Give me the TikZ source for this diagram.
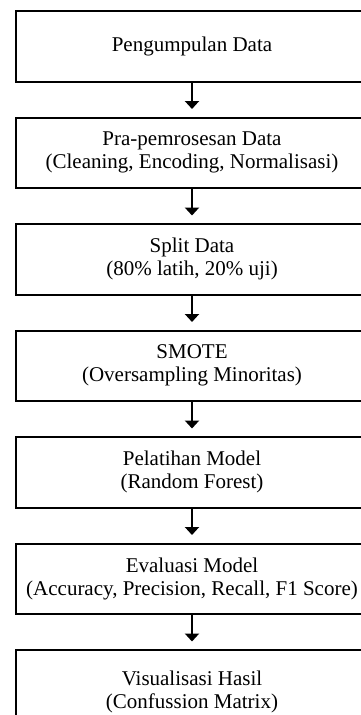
\documentclass[tikz,border=0pt]{standalone}
\usepackage{fontspec}
\setmainfont{Liberation Serif}
\usetikzlibrary{arrows.meta}
\begin{document}
\begin{tikzpicture}[x=1pt,y=-1pt,
  stepbox/.style={draw=black, line width=2pt, minimum width=352pt,
    minimum height=70.5pt, inner sep=0pt, align=center,
    font=\fontsize{21}{23}\selectfont},
  flow/.style={line width=2pt, -{Triangle[width=14pt,length=8pt]},
    shorten >=7.5pt}]
\useasboundingbox (0,0) rectangle (361,715);
\clip (0,0) rectangle (361,715);
\node[stepbox] (b1) at (192,46.25) {Pengumpulan Data};
\node[stepbox] (b2) at (192,152.75) {Pra-pemrosesan Data\\(Cleaning, Encoding, Normalisasi)};
\node[stepbox] (b3) at (192,259.25) {Split Data\\(80\% latih, 20\% uji)};
\node[stepbox] (b4) at (192,365.75) {SMOTE\\(Oversampling Minoritas)};
\node[stepbox] (b5) at (192,472.25) {Pelatihan Model\\(Random Forest)};
\node[stepbox] (b6) at (192,578.75) {Evaluasi Model\\(Accuracy, Precision, Recall, F1 Score)};
\node[stepbox, minimum height=84pt] (b7) at (192,692) {Visualisasi Hasil\\(Confussion Matrix)};
\draw[flow] (b1.south) -- (b2.north);
\draw[flow] (b2.south) -- (b3.north);
\draw[flow] (b3.south) -- (b4.north);
\draw[flow] (b4.south) -- (b5.north);
\draw[flow] (b5.south) -- (b6.north);
\draw[flow] (b6.south) -- (b7.north);
\end{tikzpicture}
\end{document}
